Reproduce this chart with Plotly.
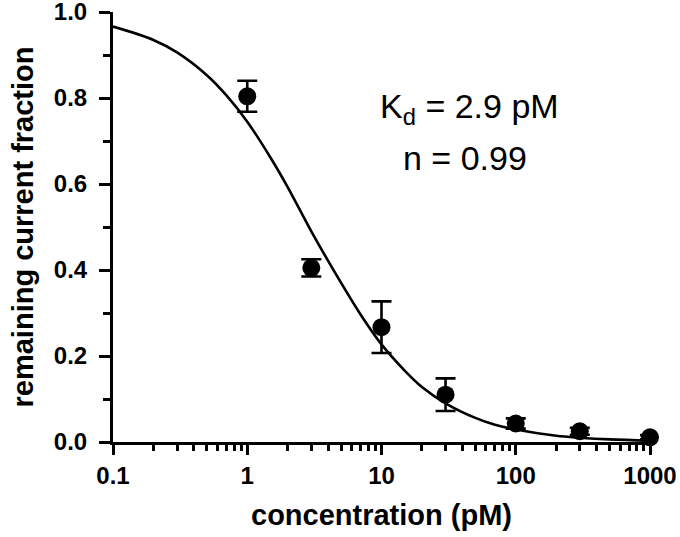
import plotly.graph_objects as go

# dados medidos (média ± erro)
conc = [1, 3, 10, 30, 100, 300, 1000]
frac = [0.804, 0.405, 0.267, 0.110, 0.043, 0.025, 0.011]
erro = [0.036, 0.020, 0.060, 0.038, 0.012, 0.008, 0.005]

# curva de ajuste
fit_x = [0.1, 0.2, 0.3, 0.5, 0.7, 1, 1.5, 2, 3, 5, 7, 10, 15, 20, 30, 50, 70,
         100, 200, 300, 500, 1000]
fit_y = [0.966, 0.935, 0.906, 0.853, 0.806, 0.745, 0.660, 0.593, 0.490, 0.370,
         0.296, 0.227, 0.165, 0.128, 0.090, 0.056, 0.040, 0.029, 0.0145, 0.0099,
         0.0060, 0.0030]

xticks = [0.1, 1, 10, 100, 1000]
xlabels = ['0.1', '1', '10', '100', '1000']
yticks = [0, 0.2, 0.4, 0.6, 0.8, 1.0]
ylabels = ['0.0', '0.2', '0.4', '0.6', '0.8', '1.0']

fonte = "Liberation Sans, Arial, sans-serif"

fig = go.Figure()

fig.add_trace(go.Scatter(x=fit_x, y=fit_y, mode='lines', line_shape='spline',
                         line=dict(color='black', width=2.6), cliponaxis=False,
                         showlegend=False))

fig.add_trace(go.Scatter(x=conc, y=frac, mode='markers', cliponaxis=False,
                         marker=dict(color='black', size=18),
                         error_y=dict(type='data', array=erro, color='black',
                                      thickness=2.6, width=10),
                         showlegend=False))

fig.add_annotation(x=0.663, y=0.775, xref='paper', yref='paper', showarrow=False,
                   yanchor='middle',
                   text='K<sub>d</sub> = 2.9 pM', font=dict(family=fonte, size=34, color='black'))
fig.add_annotation(x=0.655, y=0.661, xref='paper', yref='paper', showarrow=False,
                   yanchor='middle',
                   text='n = 0.99', font=dict(family=fonte, size=34, color='black'))

fig.update_layout(
    width=680, height=537,
    margin=dict(l=113, r=30, t=12, b=95),
    plot_bgcolor='white', paper_bgcolor='white',
    font=dict(family=fonte, color='black'),
    xaxis=dict(type='log', range=[-1, 3], showgrid=False, zeroline=False, automargin=False,
               showline=True, linecolor='black', linewidth=3,
               ticks='outside', ticklen=10, tickwidth=3, tickcolor='black',
               tickvals=xticks, ticktext=xlabels, ticklabeloverflow='allow',
               tickfont=dict(size=24, weight='bold'),
               minor=dict(ticks='outside', ticklen=6, tickwidth=2.5, tickcolor='black',
                          dtick='D1', showgrid=False),
               title=dict(text='concentration (pM)', font=dict(size=29, weight='bold'),
                          standoff=17)),
    yaxis=dict(range=[0, 1], showgrid=False, zeroline=False, automargin=False,
               showline=True, linecolor='black', linewidth=3,
               ticks='outside', ticklen=11, tickwidth=3, tickcolor='black',
               tickvals=yticks, ticktext=ylabels, ticklabeloverflow='allow',
               ticklabelstandoff=7,
               tickfont=dict(size=24, weight='bold'),
               minor=dict(ticks='outside', ticklen=7, tickwidth=2.5, tickcolor='black',
                          dtick=0.1, showgrid=False),
               title=dict(text='remaining current fraction', font=dict(size=29, weight='bold'),
                          standoff=12)),
)

# sem a margem padrão do body, a figura ocupa a janela inteira
fig.write_html("out.html", config={'displayModeBar': False},
               post_script="document.body.style.margin='0';")
